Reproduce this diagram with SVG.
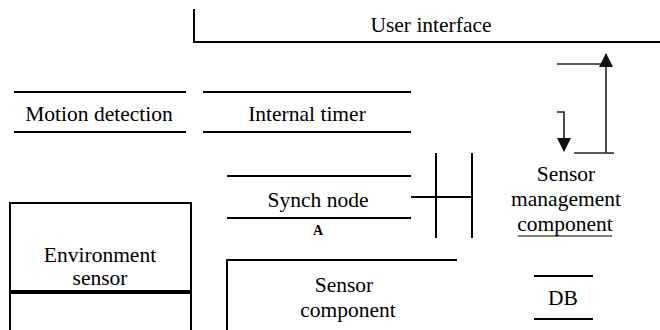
<svg xmlns="http://www.w3.org/2000/svg" width="660" height="330" viewBox="0 0 660 330">
  <style>
    .ln { stroke: #000; stroke-width: 2; fill: none; }
    .thick { stroke: #000; stroke-width: 4; fill: none; }
    .conn { stroke: #222; stroke-width: 1.6; fill: none; }
    text { font-family: 'Liberation Serif', Tinos, 'Times New Roman', 'DejaVu Serif', serif; fill: #000; text-anchor: middle; }
    .t { font-size: 21.5px; }
    .small { font-size: 14px; font-weight: bold; }
  </style>
  <defs>
    <marker id="arrowHead" viewBox="0 0 14 14" refX="13" refY="7" markerWidth="14" markerHeight="14" markerUnits="userSpaceOnUse" orient="auto">
      <path d="M0,0 L14,7 L0,14 Z" fill="#111"/>
    </marker>
  </defs>
  <rect width="660" height="330" fill="#fff"/>

  <g id="user-interface">
    <path class="ln" d="M194,9 V42 H660"/>
    <text class="t" x="431" y="32">User interface</text>
  </g>

  <g id="motion-detection">
    <line class="ln" x1="14" y1="92" x2="186" y2="92"/>
    <line class="ln" x1="14" y1="132" x2="186" y2="132"/>
    <text class="t" x="99" y="121">Motion detection</text>
  </g>

  <g id="internal-timer">
    <line class="ln" x1="203" y1="92" x2="411" y2="92"/>
    <line class="ln" x1="203" y1="132" x2="411" y2="132"/>
    <text class="t" x="307" y="121">Internal timer</text>
  </g>

  <g id="synch-node">
    <line class="ln" x1="227" y1="176" x2="411" y2="176"/>
    <line class="ln" x1="227" y1="218" x2="411" y2="218"/>
    <text class="t" x="318" y="207">Synch node</text>
    <text class="small" x="318" y="235">A</text>
  </g>

  <g id="sensor-management">
    <text class="t" x="566" y="181">Sensor</text>
    <text class="t" x="566" y="206">management</text>
    <text class="t" x="565" y="231">component</text>
    <line stroke="#000" stroke-width="1.2" x1="518" y1="236" x2="612" y2="236"/>
  </g>

  <g id="environment-sensor">
    <path class="ln" d="M10,330 V203 H191 V330"/>
    <line class="thick" x1="9" y1="292" x2="192" y2="292"/>
    <text class="t" x="100" y="262">Environment</text>
    <text class="t" x="100" y="285">sensor</text>
  </g>

  <g id="sensor-component">
    <path class="ln" d="M227,330 V260 H457"/>
    <text class="t" x="344" y="292">Sensor</text>
    <text class="t" x="348" y="317">component</text>
  </g>

  <g id="db">
    <line class="ln" x1="534" y1="276" x2="593" y2="276"/>
    <line class="ln" x1="534" y1="319" x2="593" y2="319"/>
    <text class="t" x="563" y="305">DB</text>
  </g>

  <g id="connectors">
    <!-- synch node joint -->
    <line class="ln" x1="411" y1="197" x2="472" y2="197"/>
    <line class="ln" x1="436" y1="153" x2="436" y2="238"/>
    <line class="ln" x1="472" y1="153" x2="472" y2="238"/>
    <!-- management loop arrows -->
    <path class="conn" d="M557,64 H606"/>
    <path class="conn" d="M606,153 V54" marker-end="url(#arrowHead)"/>
    <path class="conn" d="M574,153 H614"/>
    <path class="conn" d="M557,112 H564 V151" marker-end="url(#arrowHead)"/>
  </g>
</svg>
